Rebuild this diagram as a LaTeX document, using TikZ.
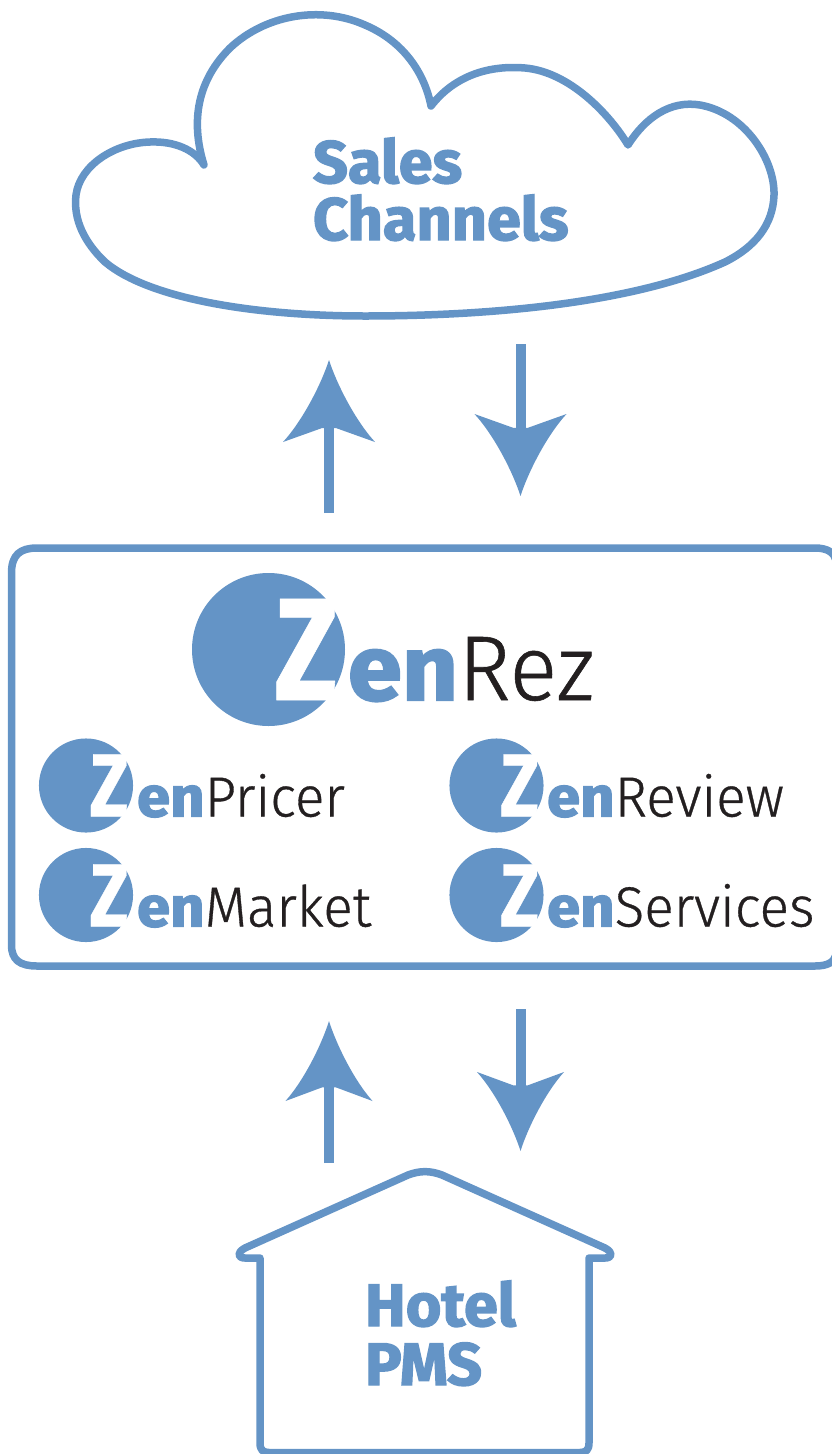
\documentclass[tikz,border=0pt]{standalone}
\usepackage{fontspec}
\setmainfont{Fira Sans}
\newfontfamily\heavyf[FakeBold=2.2,FakeStretch=1.02]{Fira Sans Bold}
\newfontfamily\enf[FakeBold=2.2,FakeStretch=1.06]{Fira Sans Bold}
\newfontfamily\zf[FakeBold=0.4,FakeStretch=0.8]{Fira Sans Bold}
\newfontfamily\thinf[FakeBold=0.6,FakeStretch=0.97]{Fira Sans Light}
\definecolor{zblue}{HTML}{6494C6}
\definecolor{zink}{HTML}{231F20}
\tikzset{
  x=1pt,y=-1pt,
  outline/.style={draw=zblue,line width=7.5pt,line join=round,fill=none},
  conn/.style={draw=zblue,line width=10pt},
  lab/.style={inner sep=0pt,outer sep=0pt,anchor=base west,text=zblue,align=left},
  disc/.style={circle,fill=zblue,inner sep=0pt},
}
\newcommand\zhead[4]{% anchor coordinate, direction (1 points up), half width, length
  \fill[zblue,shift={(#1)},yscale=#2] (0,0)
    .. controls (0.16*#3,0.28*#4) and (0.56*#3,0.73*#4) .. (#3,#4)
    -- (7,0.83*#4) -- (0,0.83*#4) -- (-7,0.83*#4) -- (-#3,#4)
    .. controls (-0.56*#3,0.73*#4) and (-0.16*#3,0.28*#4) .. (0,0) -- cycle;}
\newcommand\zlogo[7]{% name, cx, cy, scale, baseline y, en x, rest
  \pgfmathsetmacro\zsa{#4*146}\pgfmathsetmacro\zsb{#4*92}
  \node[disc,minimum size=#4*153pt] (#1d) at (#2,#3) {};
  \node[inner sep=0pt,outer sep=0pt,anchor=base west,text=white] (#1z) at (#2+#4*6,#5) {\fontsize{\zsa pt}{\zsa pt}\zf Z};
  \node[inner sep=0pt,outer sep=0pt,anchor=base west,text=zblue] (#1t) at (#6,#5) {\fontsize{\zsb pt}{\zsb pt}\enf en\textcolor{zink}{\thinf #7}};}
\begin{document}
\begin{tikzpicture}
\useasboundingbox (0,0) rectangle (831,1454);
% cloud
\draw[outline] (204,165) .. controls (190,120) and (198,80) .. (230,48)
  .. controls (265,15) and (320,5) .. (365,25)
  .. controls (405,42) and (425,75) .. (431,106)
  .. controls (455,75) and (490,65) .. (525,68)
  .. controls (570,72) and (610,115) .. (628,145)
  .. controls (645,118) and (670,100) .. (700,105)
  .. controls (745,113) and (775,160) .. (774,195)
  .. controls (773,225) and (755,247) .. (725,262)
  .. controls (630,305) and (480,316) .. (365,316)
  .. controls (260,316) and (150,300) .. (105,262)
  .. controls (85,243) and (73,220) .. (76,195)
  .. controls (80,165) and (115,143) .. (150,142)
  .. controls (175,141) and (195,150) .. (204,165) -- cycle;
\node[lab,font=\fontsize{60pt}{57pt}\heavyf] (sales) at (313,240) {Sales\\Channels};
% box
\draw[outline] (11.5,573) .. controls (11.5,555) and (20,548) .. (37,548) -- (815,548)
  .. controls (828,548) and (834,553) .. (836,560) -- (836,955)
  .. controls (834,962) and (828,966) .. (815,966) -- (37,966)
  .. controls (20,966) and (11.5,960) .. (11.5,945) -- cycle;
\zlogo{main}{268.5}{649.5}{1}{700}{348}{Rez}
\zlogo{pr}{86}{785.5}{0.615}{816.5}{137}{Pricer}
\zlogo{ma}{86}{895}{0.615}{926.5}{137}{Market}
\zlogo{re}{496.5}{785.5}{0.615}{816.5}{547}{Review}
\zlogo{se}{496.5}{895}{0.615}{926.5}{547}{Services}
% arrows
\coordinate (a1s) at (329,513); \coordinate (a1e) at (329,428); \coordinate (a1t) at (329,360);
\coordinate (a2s) at (520.5,344); \coordinate (a2e) at (520.5,428); \coordinate (a2t) at (520.5,496);
\coordinate (a3s) at (329,1163); \coordinate (a3e) at (329,1087); \coordinate (a3t) at (329,1021);
\coordinate (a4s) at (520.5,1009); \coordinate (a4e) at (520.5,1086); \coordinate (a4t) at (520.5,1151);
\draw[conn] (a1s) -- (a1e); \zhead{a1t}{1}{46}{82}
\draw[conn] (a2s) -- (a2e); \zhead{a2t}{-1}{46}{82}
\draw[conn] (a3s) -- (a3e); \zhead{a3t}{1}{43.5}{80}
\draw[conn] (a4s) -- (a4e); \zhead{a4t}{-1}{43.5}{79}
% house
\draw[outline] (260,1258) -- (245,1258) .. controls (238,1258) and (236,1253) .. (245,1248)
  -- (408,1175) .. controls (420,1170.5) and (430,1170.5) .. (442,1175)
  -- (605,1248) .. controls (614,1253) and (612,1258) .. (605,1258)
  -- (589,1258) -- (589,1443) .. controls (589,1450) and (586,1452.5) .. (580,1452.5)
  -- (269,1452.5) .. controls (263,1452.5) and (260,1450) .. (260,1443) -- cycle;
\node[lab,font=\fontsize{60pt}{59pt}\heavyf] (hotel) at (365,1385) {Hotel\\PMS};
\end{tikzpicture}
\end{document}
